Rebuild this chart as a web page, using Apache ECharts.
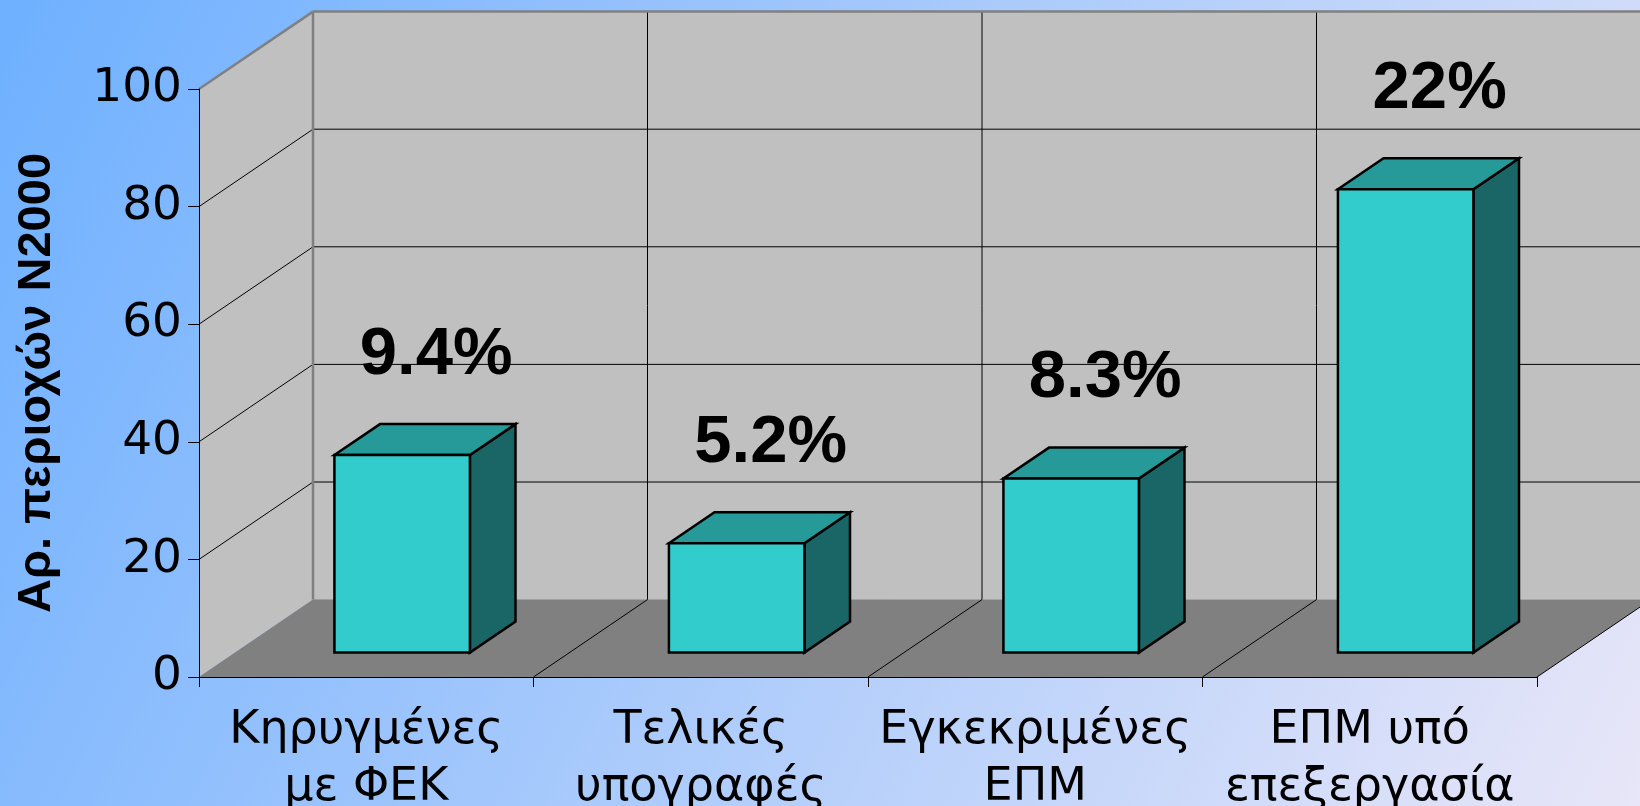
<!DOCTYPE html>
<html>
<head>
<meta charset="utf-8">
<script src="https://cdn.jsdelivr.net/npm/echarts@6/dist/echarts.min.js"></script>
<style>
html,body{margin:0;padding:0;width:1640px;height:806px;overflow:hidden;}
#chart{width:1640px;height:806px;}
</style>
</head>
<body>
<div id="chart"></div>
<script>
// ---- data ----
const categories = ['Κηρυγμένες\nμε ΦΕΚ', 'Τελικές\nυπογραφές', 'Εγκεκριμένες\nΕΠΜ', 'ΕΠΜ υπό\nεπεξεργασία'];
const values = [33.6, 18.6, 29.6, 78.8];
const percentLabels = ['9.4%', '5.2%', '8.3%', '22%'];
const yTicks = [0, 20, 40, 60, 80, 100];
const yTitle = 'Αρ. περιοχών N2000';

// ---- 3D look (layout constants) ----
const DX = 114, DY = -77.4;          // full depth offset in px
const BAR_FRONT = 0.315, BAR_DEPTH = 0.40, BAR_W = 0.405;
const LABEL_DX = 34, LABEL_DY = -100;

const yMin = yTicks[0], yMax = yTicks[yTicks.length - 1];

const chart = echarts.init(document.getElementById('chart'), null, {renderer: 'canvas'});

function wallsRender(params, api) {
  const cw = api.size([1, 0])[0];
  const n = categories.length;
  const x0 = api.coord([0, yMin])[0] - cw / 2;
  const x1 = x0 + n * cw;
  const yb = api.coord([0, yMin])[1];
  const yt = api.coord([0, yMax])[1];
  const children = [];
  children.push({type: 'polygon', shape: {points: [[x0, yb], [x0, yt], [x0 + DX, yt + DY], [x0 + DX, yb + DY]]},
    style: {fill: '#c0c0c0'}});
  children.push({type: 'polygon', shape: {points: [[x0 + DX, yt + DY], [x1 + DX, yt + DY], [x1 + DX, yb + DY], [x0 + DX, yb + DY]]},
    style: {fill: '#c0c0c0'}});
  children.push({type: 'polygon', shape: {points: [[x0, yb], [x1, yb], [x1 + DX, yb + DY], [x0 + DX, yb + DY]]},
    style: {fill: '#808080'}});
  const gl = {stroke: '#000', lineWidth: 1};
  yTicks.forEach(function (v) {
    if (v === yMin || v === yMax) return;
    const y = api.coord([0, v])[1];
    children.push({type: 'line', shape: {x1: x0, y1: y, x2: x0 + DX, y2: y + DY}, style: gl});
    children.push({type: 'line', shape: {x1: x0 + DX, y1: y + DY, x2: x1 + DX, y2: y + DY}, style: gl});
  });
  for (let i = 1; i <= n; i++) {
    const xb = x0 + i * cw;
    if (i < n) children.push({type: 'line', shape: {x1: xb + DX, y1: yb + DY, x2: xb + DX, y2: yt + DY}, style: gl});
    children.push({type: 'line', shape: {x1: xb, y1: yb, x2: xb + DX, y2: yb + DY}, style: gl});
  }
  const eg = {stroke: '#808080', lineWidth: 2.5};
  children.push({type: 'line', shape: {x1: x0, y1: yt, x2: x0 + DX, y2: yt + DY}, style: eg});
  children.push({type: 'line', shape: {x1: x0 + DX, y1: yt + DY, x2: x1 + DX, y2: yt + DY}, style: eg});
  children.push({type: 'line', shape: {x1: x0 + DX, y1: yt + DY, x2: x0 + DX, y2: yb + DY}, style: eg});
  return {type: 'group', children: children};
}

function barRender(params, api) {
  const idx = api.value(0);
  const v = api.value(1);
  const cw = api.size([1, 0])[0];
  const base = api.coord([idx, yMin]);
  const top = api.coord([idx, v]);
  const w = cw * BAR_W;
  const fx = base[0] + DX * BAR_FRONT - w / 2;
  const fy0 = base[1] + DY * BAR_FRONT;
  const fy1 = top[1] + DY * BAR_FRONT;
  const bx = DX * BAR_DEPTH, by = DY * BAR_DEPTH;
  const st = {stroke: '#000', lineWidth: 2.5, lineJoin: 'miter'};
  return {type: 'group', children: [
    {type: 'polygon', shape: {points: [[fx + w, fy1], [fx + w + bx, fy1 + by], [fx + w + bx, fy0 + by], [fx + w, fy0]]},
      style: Object.assign({fill: '#1a6666'}, st)},
    {type: 'polygon', shape: {points: [[fx, fy1], [fx + w, fy1], [fx + w + bx, fy1 + by], [fx + bx, fy1 + by]]},
      style: Object.assign({fill: '#269999'}, st)},
    {type: 'polygon', shape: {points: [[fx, fy1], [fx + w, fy1], [fx + w, fy0], [fx, fy0]]},
      style: Object.assign({fill: '#33cccc'}, st)},
    {type: 'text', style: {x: fx + w / 2 + LABEL_DX, y: fy1 + LABEL_DY, text: percentLabels[idx],
      fill: '#000', font: 'bold 67px "Liberation Sans", Arial, sans-serif', align: 'center', verticalAlign: 'middle'}}
  ]};
}

const option = {
  animation: false,
  backgroundColor: {type: 'linear', x: 0, y: 0, x2: 1, y2: 1,
    colorStops: [{offset: 0, color: '#6eb0ff'}, {offset: 1, color: '#e8e6f8'}]},
  grid: {left: 199, right: 103, top: 89, bottom: 129, containLabel: false, outerBoundsMode: 'none'},
  xAxis: {
    type: 'category', data: categories, z: 10,
    axisLine: {show: true, lineStyle: {color: '#000', width: 1}},
    axisTick: {show: true, length: 10, lineStyle: {color: '#000'}},
    axisLabel: {interval: 0, color: '#000', fontSize: 46, fontFamily: '"DejaVu Sans", sans-serif',
      lineHeight: 57, margin: 26},
    splitLine: {show: false}
  },
  yAxis: {
    type: 'value', min: yMin, max: yMax, interval: 20, z: 10,
    name: yTitle, nameLocation: 'middle', nameRotate: 90, nameGap: 138,
    nameTextStyle: {color: '#000', fontSize: 47, fontWeight: 'bold', fontFamily: '"Liberation Sans", Arial, sans-serif'},
    axisLine: {show: true, lineStyle: {color: '#000', width: 1}},
    axisTick: {show: true, length: 11, lineStyle: {color: '#000'}},
    axisLabel: {color: '#000', fontSize: 47, fontFamily: '"DejaVu Sans", sans-serif', margin: 17},
    splitLine: {show: false}
  },
  series: [
    {type: 'custom', name: 'walls', z: 1, silent: true, renderItem: wallsRender, data: [[0, 0]],
      encode: {x: 0, y: 1}, clip: false},
    {type: 'custom', name: 'bars', z: 3, renderItem: barRender,
      data: values.map(function (v, i) { return [i, v]; }), encode: {x: 0, y: 1}, clip: false}
  ]
};
chart.setOption(option);
</script>
</body>
</html>
